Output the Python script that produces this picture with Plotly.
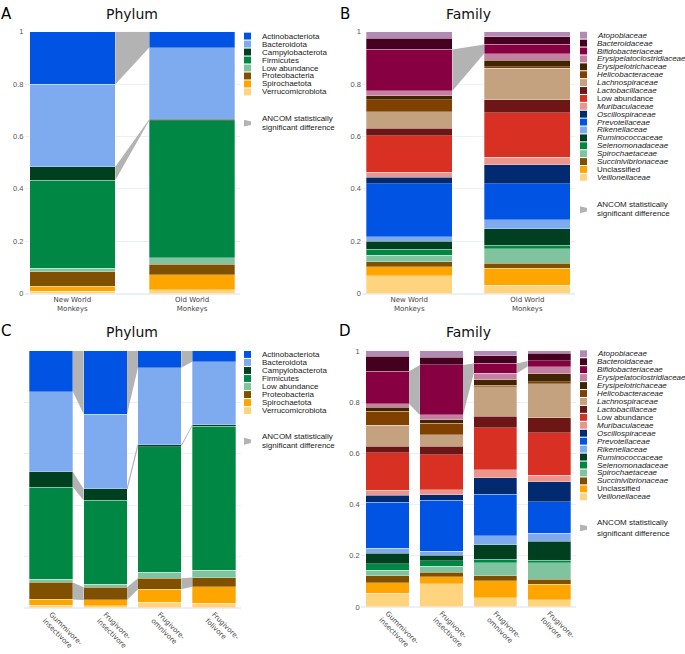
import plotly.graph_objects as go

# ---------------- data ----------------
phyla = ["Actinobacteriota", "Bacteroidota", "Campylobacterota", "Firmicutes",
         "Low abundance", "Proteobacteria", "Spirochaetota", "Verrucomicrobiota"]

families = ["Atopobiaceae", "Bacteroidaceae", "Bifidobacteriaceae",
            "Erysipelatoclostridiaceae", "Erysipelotrichaceae", "Helicobacteraceae",
            "Lachnospiraceae", "Lactobacillaceae", "Low abundance", "Muribaculaceae",
            "Oscillospiraceae", "Prevotellaceae", "Rikenellaceae", "Ruminococcaceae",
            "Selenomonadaceae", "Spirochaetaceae", "Succinivibrionaceae",
            "Unclassified", "Veillonellaceae"]
family_italic = [f not in ("Low abundance", "Unclassified") for f in families]

world_groups = ["New World<br>Monkeys", "Old World<br>Monkeys"]
diet_groups = ["Gummivore-<br>insectivore", "Frugivore-<br>insectivore",
               "Frugivore-<br>omnivore", "Frugivore-<br>folivore"]

# Panel A - phylum, by world (values in order of `phyla`)
phylum_new_world = [0.201, 0.315, 0.051, 0.336, 0.013, 0.056, 0.020, 0.008]
phylum_old_world = [0.060, 0.274, 0.005, 0.524, 0.025, 0.040, 0.057, 0.015]

# Panel B - family, by world (values in order of `families`)
family_new_world = [0.024, 0.043, 0.159, 0.018, 0.015, 0.046, 0.063, 0.030, 0.139, 0.019,
                    0.024, 0.203, 0.018, 0.030, 0.023, 0.024, 0.020, 0.034, 0.068]
family_old_world = [0.019, 0.029, 0.035, 0.026, 0.025, 0.006, 0.120, 0.050, 0.169, 0.029,
                    0.072, 0.138, 0.035, 0.063, 0.013, 0.056, 0.018, 0.066, 0.031]

# Panel C - phylum, by diet
phylum_gummivore_insectivore = [0.158, 0.312, 0.060, 0.358, 0.013, 0.066, 0.023, 0.010]
phylum_frugivore_insectivore = [0.246, 0.291, 0.045, 0.325, 0.013, 0.049, 0.023, 0.008]
phylum_frugivore_omnivore = [0.066, 0.299, 0.008, 0.489, 0.023, 0.042, 0.051, 0.022]
phylum_frugivore_folivore = [0.042, 0.245, 0.006, 0.560, 0.029, 0.036, 0.064, 0.018]

# Panel D - family, by diet
family_gummivore_insectivore = [0.021, 0.058, 0.128, 0.013, 0.015, 0.055, 0.083, 0.024, 0.147, 0.019,
                                0.029, 0.179, 0.019, 0.042, 0.024, 0.023, 0.027, 0.041, 0.053]
family_frugivore_insectivore = [0.024, 0.031, 0.195, 0.018, 0.015, 0.044, 0.046, 0.032, 0.137, 0.019,
                                0.023, 0.199, 0.015, 0.022, 0.021, 0.023, 0.018, 0.027, 0.091]
family_frugivore_omnivore = [0.018, 0.031, 0.038, 0.026, 0.021, 0.006, 0.115, 0.046, 0.164, 0.031,
                             0.064, 0.162, 0.036, 0.056, 0.014, 0.051, 0.019, 0.067, 0.035]
family_frugivore_folivore = [0.010, 0.029, 0.022, 0.028, 0.032, 0.008, 0.133, 0.058, 0.165, 0.026,
                             0.079, 0.122, 0.031, 0.074, 0.010, 0.064, 0.021, 0.060, 0.028]

# ANCOM significant differences: (taxon, index of left bar, kind)
ancom_A = [("Actinobacteriota", 0, "band"), ("Campylobacterota", 0, "band")]
ancom_B = [("Bifidobacteriaceae", 0, "band")]
ancom_C = [("Actinobacteriota", 0, "band"), ("Campylobacterota", 0, "band"),
           ("Proteobacteria", 0, "band"), ("Actinobacteriota", 1, "band"),
           ("Campylobacterota", 1, "edge"), ("Proteobacteria", 1, "band"),
           ("Actinobacteriota", 2, "band"), ("Campylobacterota", 2, "band"),
           ("Proteobacteria", 2, "band")]
ancom_D = [("Bifidobacteriaceae", 0, "band"), ("Bifidobacteriaceae", 1, "band"),
           ("Bifidobacteriaceae", 2, "band")]

# ---------------- styles ----------------
phylum_colors = ["#0154e3", "#7eaaf0", "#003f20", "#008744", "#80c49f", "#7e5000",
                 "#ffa500", "#ffd47f"]
family_colors = ["#b28bb5", "#450020", "#870042", "#c480a1", "#432400", "#804000",
                 "#c4a17f", "#6c1616", "#d83124", "#eb958d", "#012a70", "#0154e3",
                 "#7eaaf0", "#003f20", "#008744", "#80c49f", "#7e5000", "#ffa500",
                 "#ffd47f"]
GREY = "#b3b3b3"
W, H = 685, 654


def px2x(px):
    return px / W


def py2y(py):
    return 1 - py / H


fig = go.Figure()

panels = [
    dict(taxa=phyla, colors=phylum_colors, groups=world_groups,
         values=[phylum_new_world, phylum_old_world], ancom=ancom_A,
         xa="x", ya="y", w=0.716),
    dict(taxa=families, colors=family_colors, groups=world_groups,
         values=[family_new_world, family_old_world], ancom=ancom_B,
         xa="x2", ya="y2", w=0.73),
    dict(taxa=phyla, colors=phylum_colors, groups=diet_groups,
         values=[phylum_gummivore_insectivore, phylum_frugivore_insectivore,
                 phylum_frugivore_omnivore, phylum_frugivore_folivore], ancom=ancom_C,
         xa="x3", ya="y3", w=0.8),
    dict(taxa=families, colors=family_colors, groups=diet_groups,
         values=[family_gummivore_insectivore, family_frugivore_insectivore,
                 family_frugivore_omnivore, family_frugivore_folivore], ancom=ancom_D,
         xa="x4", ya="y4", w=0.8),
]

for p in panels:
    taxa, vals, w = p["taxa"], p["values"], p["w"]
    n = len(p["groups"])
    xs = list(range(n))
    # stack from the bottom: last taxon at the bottom
    for t in reversed(range(len(taxa))):
        fig.add_trace(go.Bar(
            x=xs, y=[vals[g][t] for g in range(n)], width=w, name=taxa[t],
            marker=dict(color=p["colors"][t], line=dict(color="rgba(255,255,255,0.6)", width=0.5)),
            xaxis=p["xa"], yaxis=p["ya"], showlegend=False, hoverinfo="name+y"))
    # connectors
    for taxon, i, kind in p["ancom"]:
        t = taxa.index(taxon)
        b_i = sum(vals[i][t + 1:])
        top_i = b_i + vals[i][t]
        b_j = sum(vals[i + 1][t + 1:])
        top_j = b_j + vals[i + 1][t]
        xr = i + w / 2
        xl = i + 1 - w / 2
        if kind == "band":
            fig.add_trace(go.Scatter(
                x=[xr, xl, xl, xr, xr], y=[top_i, top_j, b_j, b_i, top_i],
                fill="toself", fillcolor=GREY, mode="lines", line=dict(width=0, color=GREY),
                xaxis=p["xa"], yaxis=p["ya"], showlegend=False, hoverinfo="skip"))
        else:
            fig.add_trace(go.Scatter(
                x=[xr, xl], y=[top_i, top_j], mode="lines",
                line=dict(width=1.2, color=GREY),
                xaxis=p["xa"], yaxis=p["ya"], showlegend=False, hoverinfo="skip"))

tickfont_x = dict(family="DejaVu Sans", size=7, color="#444")
tickfont_y = dict(family="Liberation Sans, Arial", size=7.5, color="#555")


def xax(dom, rng, labels, angle):
    return dict(domain=[px2x(dom[0]), px2x(dom[1])], range=rng, tickmode="array",
                tickvals=list(range(len(labels))), ticktext=labels, tickangle=angle,
                showgrid=False, zeroline=False, ticks="", tickfont=tickfont_x, fixedrange=True)


def yax(dom, show):
    return dict(domain=[py2y(dom[1]), py2y(dom[0])], range=[0, 1], dtick=0.2,
                showticklabels=show, tickfont=tickfont_y, gridcolor="#EBF0F8",
                zeroline=True, zerolinecolor="#EBF0F8", zerolinewidth=1.5, ticks="",
                fixedrange=True)


layout = dict(
    template="plotly_white", width=W, height=H, autosize=False,
    margin=dict(l=0, r=0, t=0, b=0), barmode="stack",
    plot_bgcolor="white", paper_bgcolor="white", showlegend=False,
    xaxis=dict(xax((24.5, 240), [-0.4, 1.4], world_groups, 0), anchor="y"),
    yaxis=dict(yax((28.3, 294), True), anchor="x"),
    xaxis2=dict(xax((362, 574.5), [-0.4, 1.4], world_groups, 0), anchor="y2"),
    yaxis2=dict(yax((28.3, 294), True), anchor="x2"),
    xaxis3=dict(xax((24, 241), [-0.5, 3.5], diet_groups, 45), anchor="y3"),
    yaxis3=dict(yax((352.3, 613.3), False), anchor="x3"),
    xaxis4=dict(xax((360.6, 576.2), [-0.5, 3.5], diet_groups, 45), anchor="y4"),
    yaxis4=dict(yax((352.3, 612.3), True), anchor="x4"),
)
fig.update_layout(**layout)

annotations = []
shapes = []

# titles and panel letters
for txt, cx, cy in [("Phylum", 132, 10.5), ("Family", 468.5, 10.5),
                    ("Phylum", 132, 333.5), ("Family", 468.5, 333.5)]:
    annotations.append(dict(text=txt, x=px2x(cx), y=py2y(cy), xref="paper", yref="paper",
                            xanchor="center", yanchor="middle", showarrow=False,
                            font=dict(family="DejaVu Sans", size=14, color="#111")))
for txt, cx, cy in [("A", 6.3, 10.3), ("B", 345, 10.3), ("C", 6.3, 332.5), ("D", 345, 332.5)]:
    annotations.append(dict(text=txt, x=px2x(cx), y=py2y(cy), xref="paper", yref="paper",
                            xanchor="center", yanchor="middle", showarrow=False,
                            font=dict(family="DejaVu Sans", size=15, color="#000")))

# manual legends
legend_specs = [
    dict(taxa=phyla, colors=phylum_colors, italic=[False] * len(phyla),
         sx=244, tx=260.5, y0=32.6, dy=8.1, anc=(116, 125.5, 121)),
    dict(taxa=families, colors=family_colors, italic=family_italic,
         sx=580, tx=596, y0=31.7, dy=8.02, anc=(203.3, 212.8, 209)),
    dict(taxa=phyla, colors=phylum_colors, italic=[False] * len(phyla),
         sx=244, tx=260.5, y0=355.9, dy=8.14, anc=(439, 448.7, 444)),
    dict(taxa=families, colors=family_colors, italic=family_italic,
         sx=580, tx=596, y0=355.2, dy=8.07, anc=(526.7, 537.3, 532)),
]
lfont = dict(family="Liberation Sans, Arial", size=8, color="#222")
for L in legend_specs:
    for k, name in enumerate(L["taxa"]):
        cy = L["y0"] + k * L["dy"]
        shapes.append(dict(type="rect", xref="paper", yref="paper",
                           x0=px2x(L["sx"]), x1=px2x(L["sx"] + 7),
                           y0=py2y(cy + 3.5), y1=py2y(cy - 3.5),
                           fillcolor=L["colors"][k], line=dict(width=0)))
        label = f"<i>{name}</i>" if L["italic"][k] else name
        annotations.append(dict(text=label, x=px2x(L["tx"]), y=py2y(cy), xref="paper",
                                yref="paper", xanchor="left", yanchor="middle",
                                showarrow=False, font=lfont, borderpad=0))
    a1, a2, ic = L["anc"]
    for txt, yy in [("ANCOM statistically", a1), ("significant difference", a2)]:
        annotations.append(dict(text=txt, x=px2x(L["tx"]), y=py2y(yy), xref="paper",
                                yref="paper", xanchor="left", yanchor="middle",
                                showarrow=False, font=lfont, borderpad=0))
    x0, x1 = px2x(L["sx"]), px2x(L["sx"] + 7)
    path = (f"M {x0},{py2y(ic - 3.5)} L {x1},{py2y(ic - 1.8)} "
            f"L {x1},{py2y(ic + 1.8)} L {x0},{py2y(ic + 3.5)} Z")
    shapes.append(dict(type="path", xref="paper", yref="paper", path=path,
                       fillcolor=GREY, line=dict(width=0)))

fig.update_layout(annotations=annotations, shapes=shapes)
fig.write_html("out.html", config={"displayModeBar": False},
               post_script="document.body.style.margin='0px';document.body.style.padding='0px';")
